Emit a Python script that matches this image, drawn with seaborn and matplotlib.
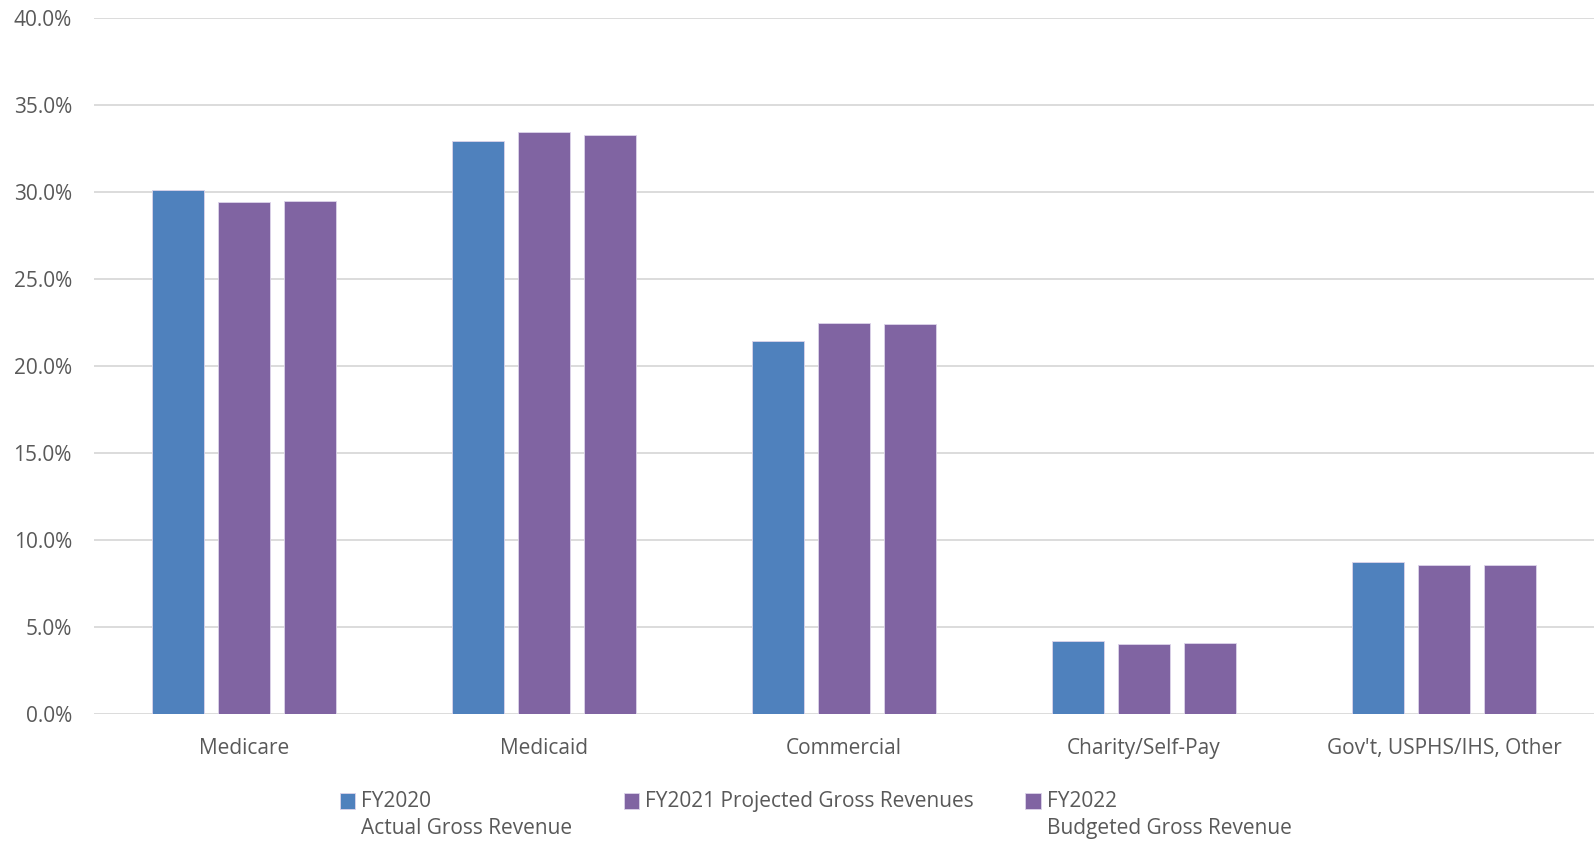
import pandas as pd
import matplotlib.pyplot as plt
import seaborn as sns
from matplotlib.ticker import PercentFormatter
from matplotlib.patches import Rectangle
from matplotlib.legend_handler import HandlerPatch

categories = ['Medicare', 'Medicaid', 'Commercial', 'Charity/Self-Pay', "Gov't, USPHS/IHS, Other"]
series = ['FY2020\nActual Gross Revenue', 'FY2021 Projected Gross Revenues\n ', 'FY2022\nBudgeted Gross Revenue']
fy2020 = [30.1, 32.9, 21.4, 4.2, 8.75]
fy2021 = [29.43, 33.42, 22.44, 4.0, 8.54]
fy2022 = [29.47, 33.25, 22.38, 4.06, 8.58]
colors = ['#4F81BD', '#8064A2', '#8064A2']

df = pd.DataFrame({
    'category': categories * 3,
    'series': [s for s in series for _ in categories],
    'share': fy2020 + fy2021 + fy2022,
})

sns.set_style('white')
plt.rcParams['font.family'] = ['Open Sans', 'DejaVu Sans']
text_color = '#595959'
fs = 15
line_sp = 1.4

fig = plt.figure(figsize=(15.94, 8.42), dpi=100)
ax = fig.add_axes([0.059, 0.152, 0.941, 0.827])
sns.barplot(data=df, x='category', y='share', hue='series', palette=colors, saturation=1,
            width=0.66, gap=0.21, edgecolor='#dcd4ea', linewidth=0.6, ax=ax)

ax.set_ylim(0, 40)
ax.set_xlim(-0.5, 4.5)
ax.set_yticks(range(0, 41, 5))
ax.yaxis.set_major_formatter(PercentFormatter(decimals=1))
ax.grid(axis='y', color='#d9d9d9', linewidth=1.3)
ax.set_axisbelow(True)
for s in ax.spines.values():
    s.set_visible(False)
ax.tick_params(axis='both', length=0, labelsize=fs, labelcolor=text_color)
ax.tick_params(axis='y', pad=16)
ax.tick_params(axis='x', pad=17.5)
ax.set_xlabel('')
ax.set_ylabel('')


# legend square sits next to the first line of a two-line label
def top_square(legend, orig_handle, xdescent, ydescent, width, height, fontsize):
    shift = 0.5 * line_sp * fontsize
    return Rectangle((-xdescent, -ydescent + shift), width, height)


handles, labels = ax.get_legend_handles_labels()
ax.legend_.remove()
leg = fig.legend(handles, labels, loc='upper left', bbox_to_anchor=(0.213, 0.061), ncol=3,
                 frameon=False, fontsize=fs, labelcolor=text_color, handlelength=0.75,
                 handleheight=0.75, handletextpad=0.3, columnspacing=2.45, borderpad=0,
                 borderaxespad=0,
                 handler_map={h: HandlerPatch(patch_func=top_square) for h in handles})
for t in leg.get_texts():
    t.set_linespacing(line_sp)

fig.savefig('out.png', dpi=100)
